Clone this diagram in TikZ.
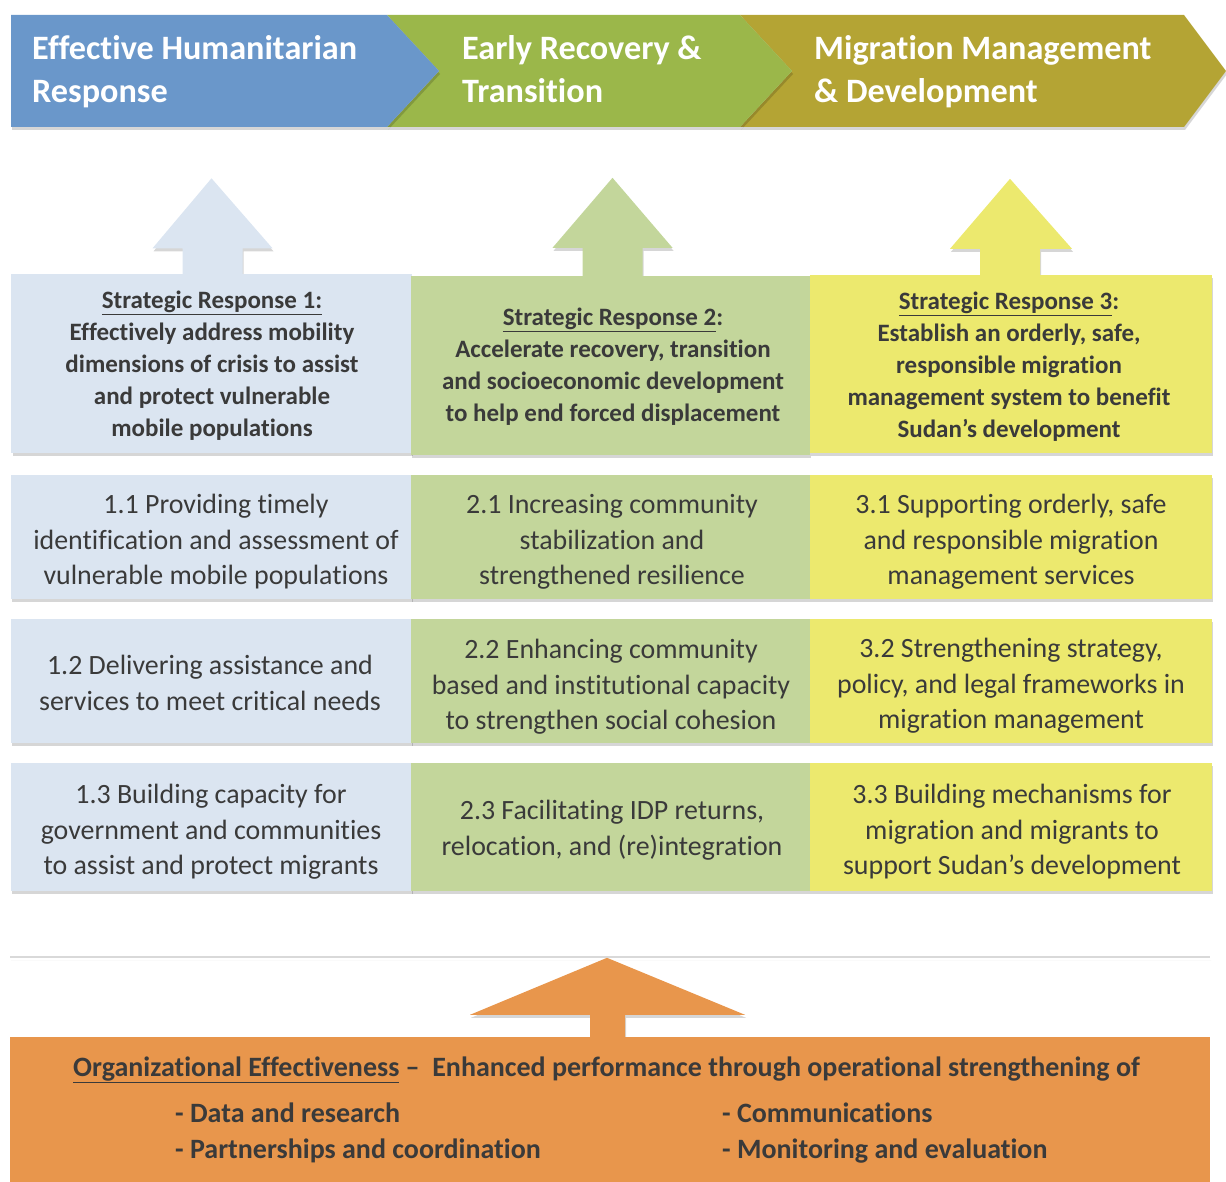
\documentclass[tikz,border=0pt]{standalone}
\usepackage{fontspec}
\setmainfont[Ligatures=NoCommon]{Carlito}
\definecolor{hblue}{HTML}{6A97CA}
\definecolor{hgreen}{HTML}{9BB74A}
\definecolor{holive}{HTML}{B4A434}
\definecolor{lblue}{HTML}{DBE5F1}
\definecolor{lgreen}{HTML}{C3D69B}
\definecolor{lyellow}{HTML}{ECE96E}
\definecolor{orng}{HTML}{E8964C}
\definecolor{txt}{HTML}{3A3A3A}
\usetikzlibrary{shadows}
\tikzset{
  shad/.style={drop shadow={shadow xshift=1pt, shadow yshift=-3pt, fill=black, opacity=0.16}},
  cbox/.style={rectangle, inner sep=0pt, shad},
  srtext/.style={font=\fontsize{25}{32}\selectfont\bfseries, text=txt, align=center, inner sep=0pt},
  ittext/.style={font=\fontsize{27.9}{35.5}\selectfont, text=txt, align=center, inner sep=0pt},
  bantext/.style={font=\fontsize{34.2}{43}\selectfont\bfseries, text=white, align=left, anchor=west, inner sep=0pt},
  orgtext/.style={font=\fontsize{28}{36}\selectfont\bfseries, text=txt, inner sep=0pt},
}
\begin{document}
\begin{tikzpicture}[x=1pt,y=-1pt]
\useasboundingbox (0,0) rectangle (1226,1182);
% banner
\fill[holive, shad] (740,15) -- (1184,15) -- (1226,71) -- (1184,127) -- (740,127) -- (792,71) -- cycle;
\fill[hgreen, shad] (387,15) -- (740,15) -- (792,71) -- (740,127) -- (387,127) -- (439,71) -- cycle;
\fill[hblue, shad] (11,15) -- (387,15) -- (439,71) -- (387,127) -- (11,127) -- cycle;
\node[bantext] (ban1) at (32,72) {Effective Humanitarian\\Response};
\node[bantext] (ban2) at (462,69) {Early Recovery \&\\Transition};
\node[bantext] (ban3) at (814,72) {Migration Management\\\& Development};
% strategic response boxes
\node[cbox, fill=lblue, minimum width=400pt, minimum height=178pt] (sr1) at (211.5,363.5) {};
\node[cbox, fill=lgreen, minimum width=399pt, minimum height=179pt] (sr2) at (610.5,365.5) {};
\node[cbox, fill=lyellow, minimum width=402pt, minimum height=178pt] (sr3) at (1011,364) {};
% up arrows
\fill[lblue, shad, shift={(sr1.north)}] (0,-96) -- (61,-26) -- (31,-26) -- (31,2) -- (-29,2) -- (-29,-26) -- (-59,-26) -- cycle;
\fill[lgreen, shad, shift={(sr2.north)}] (2,-98) -- (62,-28) -- (32,-28) -- (32,2) -- (-28,2) -- (-28,-28) -- (-58,-28) -- cycle;
\fill[lyellow, shad, shift={(sr3.north)}] (-1,-96) -- (61,-26) -- (29,-26) -- (29,2) -- (-31,2) -- (-31,-26) -- (-61,-26) -- cycle;
\fill[lblue] (sr1.north west) rectangle (sr1.south east);
\fill[lgreen] (sr2.north west) rectangle (sr2.south east);
\fill[lyellow] (sr3.north west) rectangle (sr3.south east);
\node[srtext] (sr1t) at (212,366) {\underline{Strategic Response 1:}\\Effectively address mobility\\dimensions of crisis to assist\\and protect vulnerable\\mobile populations};
\node[srtext] (sr2t) at (613,367) {\underline{Strategic Response 2}:\\Accelerate recovery, transition\\and socioeconomic development\\to help end forced displacement};
\node[srtext] (sr3t) at (1009,367) {\underline{Strategic Response 3}:\\Establish an orderly, safe,\\responsible migration\\management system to benefit\\Sudan’s development};
% outcome rows: boxes
\node[cbox, fill=lblue, minimum width=401pt, minimum height=124pt] (o11) at (211,537) {};
\node[cbox, fill=lgreen, minimum width=399pt, minimum height=124pt] (o21) at (610.5,537) {};
\node[cbox, fill=lyellow, minimum width=402pt, minimum height=124pt] (o31) at (1011,537) {};
\node[cbox, fill=lblue, minimum width=401pt, minimum height=124pt] (o12) at (211,681) {};
\node[cbox, fill=lgreen, minimum width=399pt, minimum height=124pt] (o22) at (610.5,681) {};
\node[cbox, fill=lyellow, minimum width=402pt, minimum height=124pt] (o32) at (1011,681) {};
\node[cbox, fill=lblue, minimum width=401pt, minimum height=128pt] (o13) at (211,827) {};
\node[cbox, fill=lgreen, minimum width=399pt, minimum height=128pt] (o23) at (610.5,827) {};
\node[cbox, fill=lyellow, minimum width=402pt, minimum height=128pt] (o33) at (1011,827) {};
% outcome rows: texts
\node[ittext] (o11t) at (216,542) {1.1 Providing timely\\identification and assessment of\\vulnerable mobile populations};
\node[ittext] (o21t) at (612,542) {2.1 Increasing community\\stabilization and\\strengthened resilience};
\node[ittext] (o31t) at (1011,542) {3.1 Supporting orderly, safe\\and responsible migration\\management services};
\node[ittext] (o12t) at (210,683) {1.2 Delivering assistance and\\services to meet critical needs};
\node[ittext] (o22t) at (611,687) {2.2 Enhancing community\\based and institutional capacity\\to strengthen social cohesion};
\node[ittext] (o32t) at (1011,686) {3.2 Strengthening strategy,\\policy, and legal frameworks in\\migration management};
\node[ittext] (o13t) at (211,832) {1.3 Building capacity for\\government and communities\\to assist and protect migrants};
\node[ittext] (o23t) at (612,830) {2.3 Facilitating IDP returns,\\relocation, and (re)integration};
\node[ittext] (o33t) at (1012,832) {3.3 Building mechanisms for\\migration and migrants to\\support Sudan’s development};
% organizational effectiveness
\coordinate (sepl) at (10,957);
\coordinate (sepr) at (1210,957);
\draw[black!15, line width=1.5pt, shad] (sepl) -- (sepr);
\node[rectangle, fill=orng, inner sep=0pt, minimum width=1200pt, minimum height=146pt] (org) at (610,1110) {};
\fill[orng, shad, shift={(org.north)}] (-3,-79) -- (135,-22) -- (15,-22) -- (15,2) -- (-20,2) -- (-20,-22) -- (-140,-22) -- cycle;
\fill[orng] (org.north west) rectangle (org.south east);
\node[orgtext, anchor=base west] (orgl) at (73,1076) {\underline{Organizational Effectiveness} –\ \ Enhanced performance through operational strengthening of};
\node[orgtext, anchor=base west] (it1) at (175,1122) {- Data and research};
\node[orgtext, anchor=base west] (it2) at (175,1158) {- Partnerships and coordination};
\node[orgtext, anchor=base west] (it3) at (722,1122) {- Communications};
\node[orgtext, anchor=base west] (it4) at (722,1158) {- Monitoring and evaluation};
\end{tikzpicture}
\end{document}
